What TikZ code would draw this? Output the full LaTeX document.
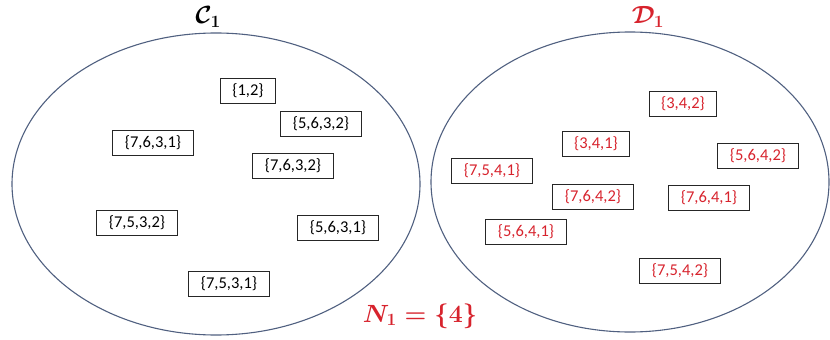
\documentclass[tikz,border=0pt]{standalone}
\usepackage{amsmath}
\usepackage{xcolor}
\usepackage{fontspec}
\setmainfont{Carlito}
\usepackage{tikz}
\usetikzlibrary{shapes.geometric}

\definecolor{setline}{RGB}{80,96,128}
\definecolor{setred}{RGB}{215,35,45}

\begin{document}
\begin{tikzpicture}[x=1pt, y=-1pt,
    every node/.style={font=\fontsize{16.5}{18}\selectfont},
    setoval/.style={ellipse, draw=setline, line width=1.1pt, inner sep=0pt},
    elem/.style={rectangle, draw=black!85, line width=1pt, inner xsep=12pt, inner ysep=0pt, minimum height=25pt},
    elemred/.style={elem, text=setred},
    setname/.style={font=\fontsize{27}{29}\selectfont},
]
\useasboundingbox (0,0) rectangle (830,340);

% Sets
\node[setoval, minimum width=408pt, minimum height=302pt] (setC) at (216,184) {};
\node[setoval, minimum width=398pt, minimum height=300pt] (setD) at (630,182) {};
\node[setname] (nameC) at (208,17) {$\boldsymbol{\mathcal{C}_1}$};
\node[setname, text=setred] (nameD) at (648,17) {$\boldsymbol{\mathcal{D}_1}$};
\node[text=setred, font=\fontsize{23}{25}\selectfont] (nset) at (420,316) {$\boldsymbol{N_1=\{4\}}$};

% Elements of C1
\node[elem] (c12) at (248,91) {\{1,2\}};
\node[elem] (c5632) at (321,124) {\{5,6,3,2\}};
\node[elem] (c7631) at (153,143) {\{7,6,3,1\}};
\node[elem] (c7632) at (293,166) {\{7,6,3,2\}};
\node[elem] (c7532) at (137,223) {\{7,5,3,2\}};
\node[elem] (c5631) at (338,228) {\{5,6,3,1\}};
\node[elem] (c7531) at (229,284) {\{7,5,3,1\}};

% Elements of D1
\node[elemred] (d342) at (683,104) {\{3,4,2\}};
\node[elemred] (d341) at (596,144) {\{3,4,1\}};
\node[elemred] (d5642) at (758,156) {\{5,6,4,2\}};
\node[elemred] (d7541) at (492,171) {\{7,5,4,1\}};
\node[elemred] (d7642) at (593,197) {\{7,6,4,2\}};
\node[elemred] (d7641) at (709,198) {\{7,6,4,1\}};
\node[elemred] (d5641) at (526,232) {\{5,6,4,1\}};
\node[elemred] (d7542) at (680,271) {\{7,5,4,2\}};

\end{tikzpicture}
\end{document}
